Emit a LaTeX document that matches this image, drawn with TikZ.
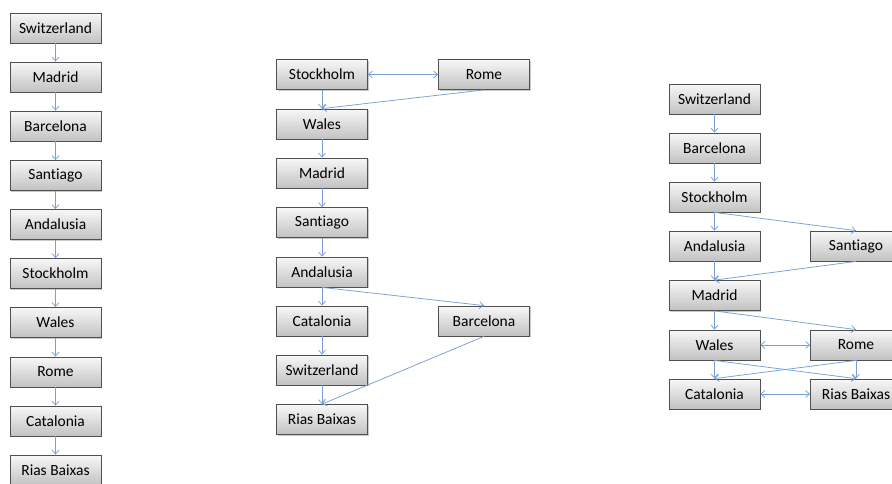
\documentclass[tikz,border=0pt]{standalone}
\usepackage{fontspec}
\setmainfont{Carlito}[Ligatures=NoCommon]
\usetikzlibrary{shadows,arrows.meta}
\definecolor{edgeblue}{HTML}{7B9FD3}
\definecolor{boxborder}{HTML}{505050}
\tikzset{
  box/.style={draw=boxborder, line width=0.8pt, top color=white!97!black, bottom color=black!24,
    minimum width=91pt, minimum height=30pt, inner sep=0pt,
    font=\fontsize{15.5}{18}\selectfont,
    drop shadow={shadow xshift=1.2pt, shadow yshift=-1.2pt, opacity=0.35, fill=black!60}},
  link/.style={draw=edgeblue, line width=0.75pt, -{Straight Barb[length=4pt,width=7pt]}},
  dlink/.style={draw=edgeblue, line width=0.75pt, {Straight Barb[length=4pt,width=7pt]}-{Straight Barb[length=4pt,width=7pt]}}
}
\begin{document}
\begin{tikzpicture}[x=1pt,y=-1pt]
\useasboundingbox[fill=white] (0,0) rectangle (892,483);
% left column
\node[box] (l1) at (55.5,28) {Switzerland};
\node[box] (l2) at (55.5,77) {Madrid};
\node[box] (l3) at (55.5,126) {Barcelona};
\node[box] (l4) at (55.5,175.5) {Santiago};
\node[box] (l5) at (55.5,224.5) {Andalusia};
\node[box] (l6) at (55.5,273.5) {Stockholm};
\node[box] (l7) at (55.5,322.5) {Wales};
\node[box] (l8) at (55.5,372) {Rome};
\node[box] (l9) at (55.5,421) {Catalonia};
\node[box] (l10) at (55.5,470) {Rias Baixas};
\foreach \a/\b in {l1/l2,l2/l3,l3/l4,l4/l5,l5/l6,l6/l7,l7/l8,l8/l9,l9/l10}
  \draw[link] (\a.south) -- (\b.north);
% middle
\node[box] (m1) at (322,74.5) {Stockholm};
\node[box] (mr) at (484,74.5) {Rome};
\node[box] (m2) at (322,124) {Wales};
\node[box] (m3) at (322,173) {Madrid};
\node[box] (m4) at (322,222.5) {Santiago};
\node[box] (m5) at (322,272) {Andalusia};
\node[box] (m6) at (322,321) {Catalonia};
\node[box] (mb) at (484,321) {Barcelona};
\node[box] (m7) at (322,370) {Switzerland};
\node[box] (m8) at (322,419.5) {Rias Baixas};
\draw[dlink] (m1.east) -- (mr.west);
\foreach \a/\b in {m1/m2,mr/m2,m2/m3,m3/m4,m4/m5,m5/m6,m5/mb,m6/m7,m7/m8,mb/m8}
  \draw[link] (\a.south) -- (\b.north);
% right
\node[box] (r1) at (714.5,99) {Switzerland};
\node[box] (r2) at (714.5,148) {Barcelona};
\node[box] (r3) at (714.5,197) {Stockholm};
\node[box] (r4) at (714.5,246) {Andalusia};
\node[box] (rs) at (856,246) {Santiago};
\node[box] (r5) at (714.5,295.5) {Madrid};
\node[box] (r6) at (714.5,345) {Wales};
\node[box] (rr) at (856,345) {Rome};
\node[box] (r7) at (714.5,394) {Catalonia};
\node[box] (rx) at (856,394) {Rias Baixas};
\foreach \a/\b in {r1/r2,r2/r3,r3/r4,r3/rs,r4/r5,rs/r5,r5/r6,r5/rr,r6/r7,r6/rx,rr/r7,rr/rx}
  \draw[link] (\a.south) -- (\b.north);
\draw[dlink] (r6.east) -- (rr.west);
\draw[dlink] (r7.east) -- (rx.west);
\end{tikzpicture}
\end{document}
